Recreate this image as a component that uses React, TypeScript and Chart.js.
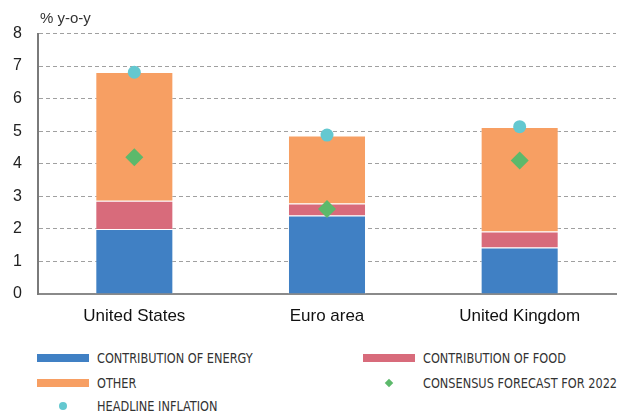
import React, { useEffect, useRef } from "react";
import { Chart, registerables } from "chart.js";

Chart.register(...registerables);

const categories = ["United States", "Euro area", "United Kingdom"];
const energy = [2.0, 2.41, 1.43];
const food = [0.86, 0.37, 0.49];
const other = [3.96, 2.09, 3.21];
const headline = [6.81, 4.88, 5.14];
const consensus = [4.2, 2.61, 4.1];
const yTicks = [0, 1, 2, 3, 4, 5, 6, 7, 8];

const C_ENERGY = "#4080c4";
const C_FOOD = "#d86b7b";
const C_OTHER = "#f79f63";
const C_HEAD = "#64c8d0";
const C_CONS = "#5cb96b";

const legendItems = [
  { label: "CONTRIBUTION OF ENERGY", color: C_ENERGY, kind: "bar", col: 0, row: 0 },
  { label: "CONTRIBUTION OF FOOD", color: C_FOOD, kind: "bar", col: 1, row: 0 },
  { label: "OTHER", color: C_OTHER, kind: "bar", col: 0, row: 1 },
  { label: "CONSENSUS FORECAST FOR 2022", color: C_CONS, kind: "diamond", col: 1, row: 1 },
  { label: "HEADLINE INFLATION", color: C_HEAD, kind: "circle", col: 0, row: 2 },
];

const titlePlugin = {
  id: "topTitle",
  afterDraw(chart: any) {
    const ctx = chart.ctx;
    ctx.save();
    ctx.font = "15px 'Liberation Sans', Arial, sans-serif";
    ctx.fillStyle = "#333";
    ctx.textBaseline = "middle";
    ctx.textAlign = "left";
    ctx.fillText("% y-o-y", chart.chartArea.left + 2, 19);
    ctx.restore();
  },
};

export default function App() {
  const ref = useRef<HTMLCanvasElement | null>(null);

  useEffect(() => {
    if (!ref.current) return;
    const barBase = {
      type: "bar" as const,
      borderColor: "rgba(255,255,255,0.5)",
      borderWidth: 1,
      categoryPercentage: 1,
      barPercentage: 0.405,
      order: 2,
    };
    const chart = new Chart(ref.current, {
      type: "bar",
      data: {
        labels: categories,
        datasets: [
          { ...barBase, label: "Contribution of energy", data: energy, backgroundColor: C_ENERGY },
          { ...barBase, label: "Contribution of food", data: food, backgroundColor: C_FOOD },
          { ...barBase, label: "Other", data: other, backgroundColor: C_OTHER },
          {
            type: "line" as const,
            label: "Consensus forecast for 2022",
            data: consensus,
            showLine: false,
            pointStyle: "rectRot",
            pointRadius: 9,
            pointHoverRadius: 9,
            pointBorderWidth: 0,
            backgroundColor: C_CONS,
            borderColor: C_CONS,
            stack: "cons",
            order: 0,
          },
          {
            type: "line" as const,
            label: "Headline inflation",
            data: headline,
            showLine: false,
            pointStyle: "circle",
            pointRadius: 6.5,
            pointHoverRadius: 6.5,
            pointBorderWidth: 0,
            backgroundColor: C_HEAD,
            borderColor: C_HEAD,
            stack: "head",
            order: 0,
          },
        ] as any,
      },
      options: {
        animation: false,
        responsive: false,
        maintainAspectRatio: false,
        layout: { padding: { top: 33.5, left: 0, right: 0, bottom: 0 } },
        plugins: {
          legend: { display: false },
          tooltip: { enabled: false },
          title: { display: false },
        },
        scales: {
          x: {
            stacked: true,
            grid: { display: false, drawTicks: false },
            border: { display: true, color: "#8a8a8a", width: 2 },
            ticks: {
              color: "#111",
              padding: 12,
              font: { family: "'Liberation Sans', Arial, sans-serif", size: 17 },
            },
            afterFit: (s: any) => {
              s.height = 46;
            },
          },
          y: {
            stacked: true,
            min: 0,
            max: 8,
            afterBuildTicks: (s: any) => {
              s.ticks = yTicks.map((v) => ({ value: v }));
            },
            grid: {
              color: "#a0a0a0",
              lineWidth: 1,
              drawTicks: false,
            },
            border: { display: true, color: "#7a7a7a", width: 2, dash: [4, 3] } as any,
            ticks: {
              color: "#222",
              padding: 16,
              font: { family: "'Liberation Sans', Arial, sans-serif", size: 16 },
            },
            afterFit: (s: any) => {
              s.width = 38;
            },
          },
        },
      },
      plugins: [titlePlugin],
    });
    return () => chart.destroy();
  }, []);

  const legendFont = "'Liberation Sans Narrow', 'DejaVu Sans Condensed', Arial, sans-serif";
  const rowY = [358, 383, 406];
  const colX = [37, 363];

  return (
    <div style={{ position: "fixed", left: 0, top: 0, width: 617, height: 411, overflow: "hidden", background: "#fff" }}>
      <canvas ref={ref} width={625} height={340} style={{ position: "absolute", left: 0, top: 0, width: 625, height: 340 }} />
      {legendItems.map((it, i) => {
        const x0 = colX[it.col];
        const y = rowY[it.row];
        let marker: React.ReactNode;
        if (it.kind === "bar") {
          marker = <div style={{ position: "absolute", left: x0, top: y - 4, width: 52, height: 8, background: it.color }} />;
        } else if (it.kind === "circle") {
          marker = <div style={{ position: "absolute", left: x0 + 22, top: y - 4, width: 8, height: 8, borderRadius: 4, background: it.color }} />;
        } else {
          marker = <div style={{ position: "absolute", left: x0 + 23, top: y - 3, width: 6, height: 6, background: it.color, transform: "rotate(45deg)" }} />;
        }
        return (
          <React.Fragment key={i}>
            {marker}
            <div
              style={{
                position: "absolute",
                left: x0 + 60,
                top: y - 9,
                height: 18,
                lineHeight: "18px",
                fontFamily: legendFont,
                fontSize: 14,
                color: "#333",
                whiteSpace: "nowrap",
                transform: "scaleX(0.9)",
                transformOrigin: "left center",
              }}
            >
              {it.label}
            </div>
          </React.Fragment>
        );
      })}
    </div>
  );
}
